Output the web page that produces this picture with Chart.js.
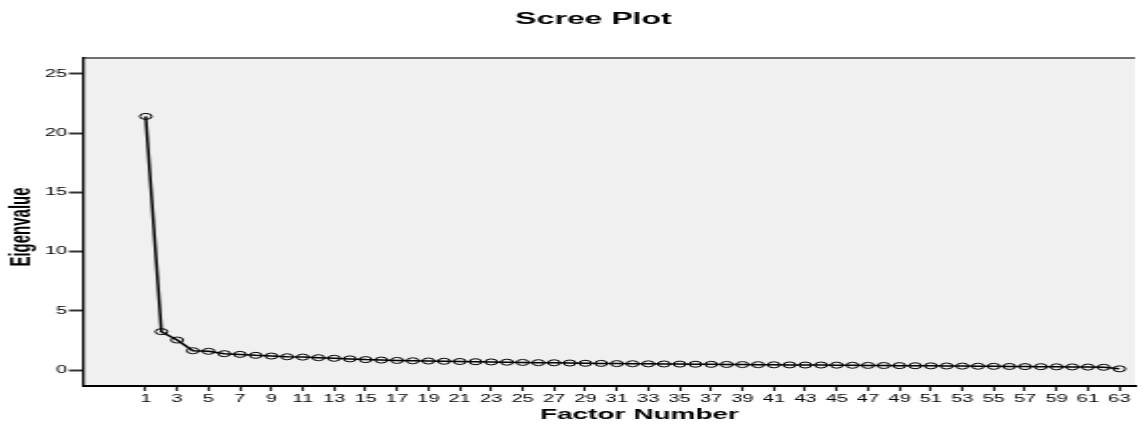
<!DOCTYPE html>
<html lang="en">
<head>
    <meta charset="UTF-8">
    <title>Scree Plot</title>
    <style>
        body {
            margin: 0;
            padding: 0;
            background: #fff;
        }
        #scree {
            display: block;
            width: 1145px !important;
            height: 427px !important;
        }
    </style>
</head>
<body>
    <!-- drawn at half width and stretched, like the original export -->
    <canvas id="scree" width="573" height="427" style="width:1145px;height:427px"></canvas>

    <script src="https://cdn.jsdelivr.net/npm/chart.js"></script>
    <script>
        const factors = [1, 2, 3, 4, 5, 6, 7, 8, 9, 10, 11, 12, 13, 14, 15, 16, 17, 18, 19, 20,
            21, 22, 23, 24, 25, 26, 27, 28, 29, 30, 31, 32, 33, 34, 35, 36, 37, 38, 39, 40,
            41, 42, 43, 44, 45, 46, 47, 48, 49, 50, 51, 52, 53, 54, 55, 56, 57, 58, 59, 60,
            61, 62, 63];
        const eigenvalues = [21.42, 3.24, 2.53, 1.63, 1.58, 1.38, 1.32, 1.24, 1.18, 1.12,
            1.09, 1.04, 0.99, 0.94, 0.88, 0.84, 0.81, 0.78, 0.76, 0.74,
            0.72, 0.70, 0.68, 0.66, 0.64, 0.62, 0.61, 0.59, 0.57, 0.56,
            0.54, 0.53, 0.52, 0.51, 0.50, 0.49, 0.48, 0.47, 0.46, 0.45,
            0.44, 0.43, 0.42, 0.42, 0.41, 0.40, 0.39, 0.38, 0.37, 0.36,
            0.35, 0.34, 0.33, 0.32, 0.31, 0.30, 0.29, 0.28, 0.27, 0.26,
            0.25, 0.23, 0.10];
        const xTickLabels = [1, 3, 5, 7, 9, 11, 13, 15, 17, 19, 21, 23, 25, 27, 29, 31,
            33, 35, 37, 39, 41, 43, 45, 47, 49, 51, 53, 55, 57, 59, 61, 63];
        const yTickLabels = [0, 5, 10, 15, 20, 25];

        const FONT = "'Liberation Sans', Arial, sans-serif";

        // gray plot box with a gray top edge
        const plotBackground = {
            id: 'plotBackground',
            beforeDraw(chart) {
                const { ctx, chartArea } = chart;
                ctx.save();
                ctx.fillStyle = '#f0f0f0';
                ctx.fillRect(chartArea.left, chartArea.top, chartArea.right - chartArea.left, chartArea.bottom - chartArea.top);
                ctx.fillStyle = '#707070';
                ctx.fillRect(chartArea.left, chartArea.top - 1, chartArea.right - chartArea.left, 2);
                ctx.restore();
            }
        };

        const titles = {
            id: 'titles',
            afterDraw(chart) {
                const ctx = chart.ctx;
                ctx.save();
                ctx.fillStyle = '#000';
                ctx.textAlign = 'center';
                ctx.textBaseline = 'middle';
                ctx.font = 'bold 16px ' + FONT;
                ctx.fillText('Scree Plot', 297, 20);
                ctx.font = 'bold 14px ' + FONT;
                ctx.fillText('Factor Number', 320, 415);
                ctx.translate(10.5, 227);
                ctx.rotate(-Math.PI / 2);
                ctx.font = 'bold 15px ' + FONT;
                ctx.fillText('Eigenvalue', 0, 0);
                ctx.restore();
            }
        };

        const ctx = document.getElementById('scree').getContext('2d');
        const screeChart = new Chart(ctx, {
            type: 'line',
            data: {
                datasets: [{
                    data: factors.map((f, i) => ({ x: f, y: eigenvalues[i] })),
                    borderColor: '#000',
                    borderWidth: 1.5,
                    pointStyle: 'circle',
                    pointRadius: 3,
                    pointBorderWidth: 1,
                    pointBorderColor: '#000',
                    pointBackgroundColor: 'rgba(0,0,0,0)',
                    fill: false,
                    tension: 0,
                }],
            },
            options: {
                responsive: false,
                devicePixelRatio: 1,
                animation: false,
                layout: {
                    padding: { top: 58, left: 0, right: 0, bottom: 0 },
                },
                plugins: {
                    legend: { display: false },
                    tooltip: { enabled: false },
                },
                scales: {
                    x: {
                        type: 'linear',
                        min: -3,
                        max: 64,
                        afterBuildTicks(scale) {
                            scale.ticks = xTickLabels.map(v => ({ value: v }));
                        },
                        afterFit(scale) {
                            scale.height = 41;
                            scale.paddingLeft = 0;
                            scale.paddingRight = 0;
                        },
                        border: { color: '#000', width: 2 },
                        grid: {
                            drawOnChartArea: false,
                            tickLength: 5,
                            tickWidth: 1.2,
                            tickColor: '#222',
                        },
                        ticks: {
                            color: '#000',
                            padding: 2,
                            maxRotation: 0,
                            autoSkip: false,
                            font: { family: FONT, size: 10 },
                        },
                    },
                    y: {
                        min: -1.35,
                        max: 26.35,
                        afterBuildTicks(scale) {
                            scale.ticks = yTickLabels.map(v => ({ value: v }));
                        },
                        afterFit(scale) {
                            scale.width = 41.5;
                        },
                        border: { color: '#000', width: 1.3 },
                        grid: {
                            drawOnChartArea: false,
                            tickLength: 7,
                            tickWidth: 2,
                            tickColor: '#333',
                        },
                        ticks: {
                            color: '#000',
                            padding: 1,
                            font: { family: FONT, size: 10 },
                        },
                    },
                },
            },
            plugins: [plotBackground, titles],
        });
    </script>
</body>
</html>
